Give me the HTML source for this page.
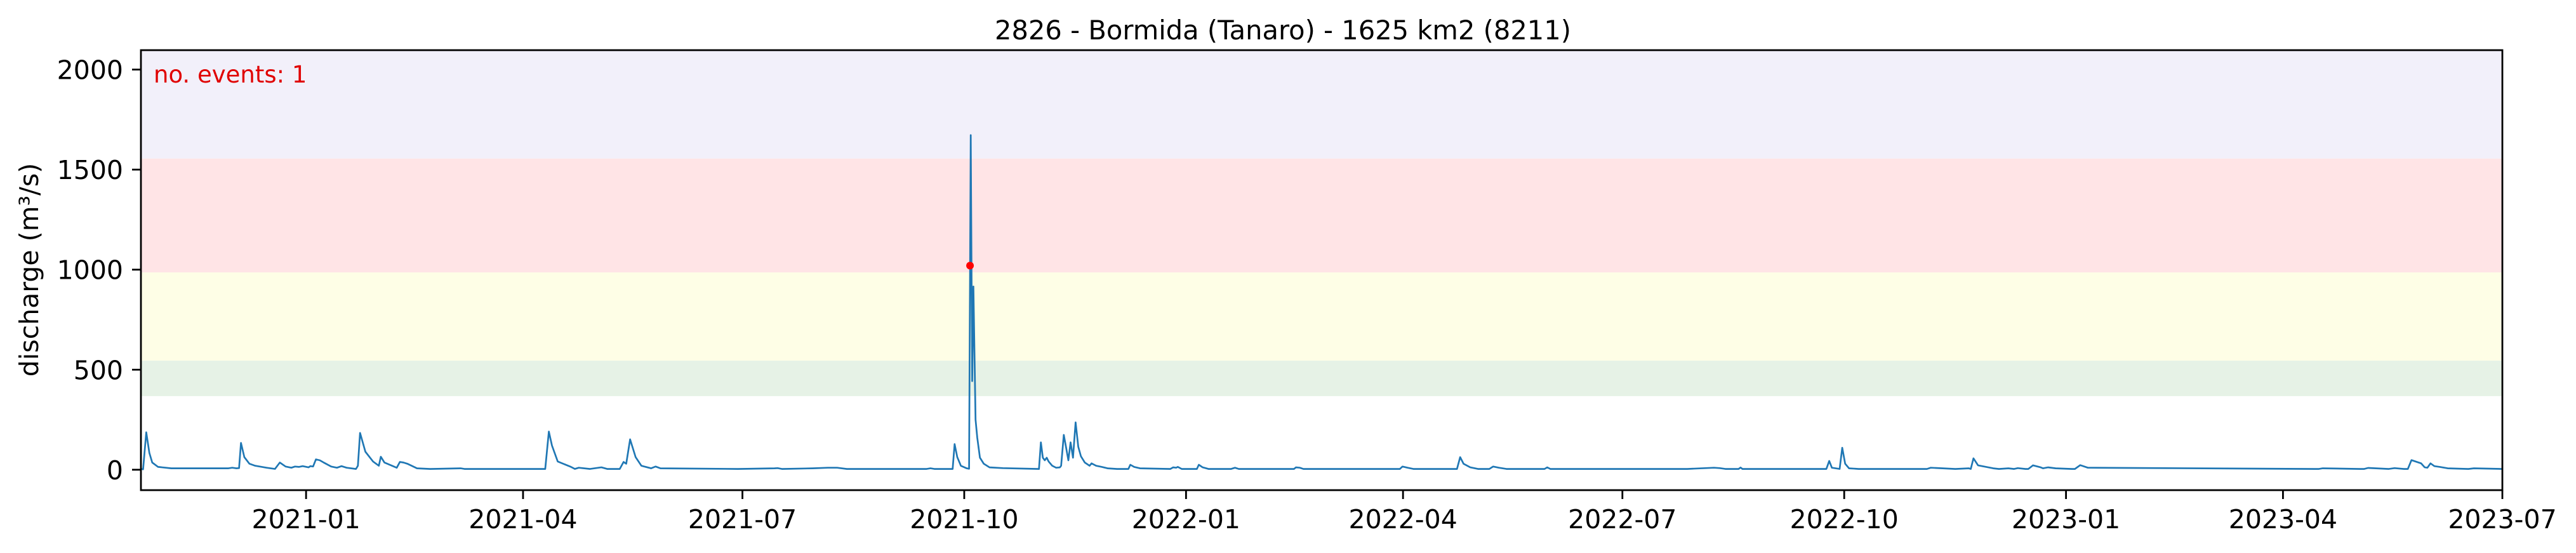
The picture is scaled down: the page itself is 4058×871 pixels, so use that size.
<!DOCTYPE html>
<html><head><meta charset="utf-8"><style>
html,body{margin:0;padding:0;background:#fff;}
svg{display:block;font-family:"DejaVu Sans","Liberation Sans",sans-serif;}
</style></head><body>
<svg id="chart" width="4058" height="871" viewBox="0 0 4058 871" xmlns="http://www.w3.org/2000/svg">
<g id="bands"></g>
<g id="series"></g>
<g id="axes"></g>
<text x="2021" y="62" font-size="41.6" text-anchor="middle" fill="#000">2826 - Bormida (Tanaro) - 1625 km2 (8211)</text>
<text x="242" y="130" font-size="37" fill="#e00000">no. events: 1</text>
<text transform="translate(60,425) rotate(-90)" font-size="41" text-anchor="middle" fill="#000">discharge (m³/s)</text>
</svg>
<script>
// days since 2020-10-24 12:00
const seriesDays = [0,0.9,2.2,3.5,4.7,7.1,12.6,36.3,37.9,39.5,40.7,41.5,42.9,45,47.4,52.1,55.6,57.6,60,62.4,63.9,65.5,67.1,69.5,70.3,71.4,72.6,74.2,75.8,78.9,81.3,83.2,85.3,89.2,90,90.9,93.1,96.3,98.7,99.5,101,104.2,106.1,107.4,108.9,110.5,114.5,120,132.6,134.2,167.7,169.2,170.5,172.9,178.4,180,181.6,186.3,191,193.4,198.6,200.2,201.3,202.9,205.2,207.6,211.6,213.5,215.5,247.6,
262.8,264.1,265.9,278.6,284.9,288.8,292.8,325.9,327.5,329.1,336.7,337.5,338.6,340.1,342.5,343.5,344.2,344.8,345.3,346.2,346.9,348,349.6,352,357.5,372.5,373.3,374.1,374.9,375.7,376.5,378,379.6,381.2,381.7,382.8,383.7,384.7,385.6,386.6,387.7,388.8,389.9,391.5,393.5,394.3,396.2,397.8,398.6,400.9,404.9,409.6,410.4,412,414.4,427,428.2,429.4,430.1,431.7,438,438.8,440.4,442.8,452.2,453.8,455.4,478.3,479.1,480.7,482.2,494.6,
522.2,523.3,525.4,527.8,545.9,547.2,548.6,551.4,554.6,559.3,560.9,563.3,566.4,582.2,583.3,584.6,641.4,652.5,654.9,657.2,662.7,663.5,664.3,699.1,700.3,701.4,704.6,705.7,706.9,708.5,712.5,740,740.8,742.4,752.6,758.1,759.0,760.1,762.0,768.3,770.7,774.6,777,778.5,781.7,782.9,784.8,788,789.0,791.1,794.2,801,802.2,804.4,807.6,901.8,903.4,905,920.6,922.2,923.8,932.4,934.8,938.7,940.3,941.8,945.8,947.3,948.4,949.7,951.3,953.6,956.8,965.4,967.7,979.5,980.8];
const seriesValues = [4,2,187,84,36,14,7,7,10,7,8,134,63,30,20,10,4,36,16,10,16,14,18,12,18,16,52,47,36,16,10,18,10,4,20,184,90,41,20,65,36,20,10,39,36,30,7,4,7,4,4,191,121,41,14,4,10,4,12,4,4,39,30,152,63,20,7,16,7,4,
7,8,4,7,10,10,4,4,7,4,4,128,63,20,7,5,1672,443,916,250,160,60,30,12,8,4,137,60,47,60,41,20,10,12,20,174,115,47,137,60,237,115,67,36,20,32,20,16,14,7,4,4,25,14,7,4,12,10,14,4,4,25,12,4,4,10,4,4,12,10,4,4,
4,16,10,4,4,63,30,12,4,4,16,10,4,4,12,4,4,10,8,4,4,11,4,4,44,10,4,110,30,7,4,4,4,10,4,7,4,57,22,7,4,7,4,8,4,4,22,12,7,12,7,4,4,23,10,4,4,7,4,4,9,4,8,4,4,48,32,12,10,32,18,14,7,4,7,4,4,32];
const eventDays = [343.9];
const eventValues = [1020];
const bandLows = [1555, 986, 545, 368];
const bandHighs = [2100, 1555, 986, 545];
const bandColors = ['#f2f0fa','#ffe4e6','#fefee6','#e6f2e6'];
const yTicks = [0, 500, 1000, 1500, 2000];
const xTickLabels = ['2021-01','2021-04','2021-07','2021-10','2022-01','2022-04','2022-07','2022-10','2023-01','2023-04','2023-07'];

const NS = 'http://www.w3.org/2000/svg';
const L = 222, R = 3942, T = 79, B = 772;
const X0 = 0, X1 = 979.5, Y0 = -102, Y1 = 2097;
const startMs = Date.UTC(2020, 9, 24, 12);
function xs(d){ return L + (d - X0) / (X1 - X0) * (R - L); }
function ys(v){ return B - (v - Y0) / (Y1 - Y0) * (B - T); }
function dayOf(lbl){ const [y,m] = lbl.split('-').map(Number); return (Date.UTC(y, m-1, 1) - startMs) / 86400000; }
function mk(tag, attrs, parent){ const e = document.createElementNS(NS, tag); for (const k in attrs) e.setAttribute(k, attrs[k]); parent.appendChild(e); return e; }

const bands = document.getElementById('bands');
bandLows.forEach((lo, i) => {
  const top = ys(Math.min(bandHighs[i], Y1));
  const r = mk('rect', {x: L, y: top, width: R - L, height: ys(lo) - top, fill: bandColors[i]}, bands);
  
  
});

const ser = document.getElementById('series');
const clip = mk('clipPath', {id: 'plotclip'}, ser);
mk('rect', {x: L, y: T, width: R - L, height: B - T}, clip);
let d = '';
seriesDays.forEach((dd, i) => { d += (i ? 'L' : 'M') + xs(dd).toFixed(1) + ',' + ys(seriesValues[i]).toFixed(1); });
const line = mk('path', {d: d, fill: 'none', stroke: '#1f77b4', 'stroke-width': 2.7, 'stroke-linejoin': 'round', 'clip-path': 'url(#plotclip)'}, ser);


eventDays.forEach((ed, i) => {
  const c = mk('circle', {cx: xs(ed), cy: ys(eventValues[i]), r: 6, fill: '#ff0000'}, ser);
  
  
});

const ax = document.getElementById('axes');
const frame = mk('rect', {x: L, y: T, width: R - L, height: B - T, fill: 'none', stroke: '#000', 'stroke-width': 2.8}, ax);


yTicks.forEach(v => {
  const y = ys(v);
  const tk = mk('line', {x1: L - 14, x2: L, y1: y, y2: y, stroke: '#000', 'stroke-width': 2.8}, ax);
  
  
  const t = mk('text', {x: L - 28, y: y + 15, 'font-size': 41, 'text-anchor': 'end', fill: '#000'}, ax);
  
  
  t.textContent = String(v);
});
xTickLabels.forEach(lbl => {
  const x = xs(dayOf(lbl));
  const tk = mk('line', {x1: x, x2: x, y1: B, y2: B + 14, stroke: '#000', 'stroke-width': 2.8}, ax);
  
  
  const t = mk('text', {x: x, y: 832, 'font-size': 41, 'text-anchor': 'middle', fill: '#000'}, ax);
  
  
  t.textContent = lbl;
});
</script>
</body></html>
